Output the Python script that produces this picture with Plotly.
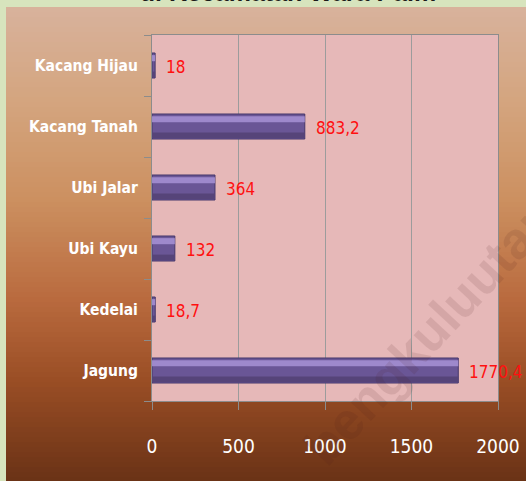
import plotly.graph_objects as go

categories = ["Jagung", "Kedelai", "Ubi Kayu", "Ubi Jalar", "Kacang Tanah", "Kacang Hijau"]
values = [1770.4, 18.7, 132, 364, 883.2, 18]
value_labels = ["1770,4", "18,7", "132", "364", "883,2", "18"]
x_ticks = [0, 500, 1000, 1500, 2000]
title_text = "di Kecamatan Wara Palm"

W, H = 526, 481
ML, MR, MT, MB = 152, 28, 35, 80
PW, PH = W - ML - MR, H - MT - MB

def px_x(p):
    return (p - ML) / PW

def px_y(p):
    return (H - MB - p) / PH

# background gradient (style)
stops = [(7, (216, 178, 156)), (100, (212, 165, 127)), (200, (204, 144, 96)),
         (300, (185, 106, 62)), (380, (154, 78, 37)), (481, (106, 50, 22))]

def col_at(p):
    for (a, ca), (b, cb) in zip(stops[:-1], stops[1:]):
        if a <= p <= b:
            t = (p - a) / (b - a)
            return tuple(int(round(ca[i] + (cb[i] - ca[i]) * t)) for i in range(3))
    return stops[-1][1]

shapes = []
step = 5
p = 7
while p < H:
    q = min(p + step, H)
    c = col_at((p + q) / 2)
    shapes.append(dict(type="rect", xref="paper", yref="paper", layer="below",
                       x0=px_x(6), x1=px_x(W + 2), y0=px_y(q + 0.5), y1=px_y(p),
                       fillcolor="rgb(%d,%d,%d)" % c, line=dict(width=0)))
    p = q
# plot area
shapes.append(dict(type="rect", xref="paper", yref="paper", layer="below",
                   x0=0, x1=1, y0=0, y1=1, fillcolor="#e6b8b8", line=dict(width=0)))

fig = go.Figure()
fig.add_trace(go.Bar(orientation="h", y=categories, x=values, width=0.41, offset=-0.205,
                     marker=dict(color="#6a5696", line=dict(color="#45366a", width=1)),
                     hoverinfo="skip"))
fig.add_trace(go.Bar(orientation="h", y=categories, x=values, width=0.09, offset=-0.19,
                     marker=dict(color="#564479", line=dict(width=0)),
                     hoverinfo="skip"))
fig.add_trace(go.Bar(orientation="h", y=categories, x=values, width=0.1, offset=0.07,
                     marker=dict(color="#a48fd2", line=dict(width=0)), opacity=0.9,
                     hoverinfo="skip"))

NARROW = "Liberation Sans Narrow, DejaVu Sans Condensed, Roboto Condensed, sans-serif"
annotations = []
for c, v, t in zip(categories, values, value_labels):
    annotations.append(dict(x=v, y=c, xref="x", yref="y", text=t, showarrow=False,
                            xanchor="left", xshift=9, yshift=-1,
                            font=dict(color="#ff1010", size=17, family=NARROW)))
annotations.append(dict(x=px_x(436), y=px_y(325), xref="paper", yref="paper", text="bengkuluutara",
                        showarrow=False, textangle=-47, xanchor="center", yanchor="middle",
                        font=dict(color="rgba(70,25,25,0.11)", size=52, family="Liberation Sans", weight="bold")))

fig.update_layout(
    width=W, height=H,
    autosize=False,
    margin=dict(l=ML, r=MR, t=MT, b=MB, autoexpand=False),
    paper_bgcolor="#d7e4bd",
    plot_bgcolor="rgba(0,0,0,0)",
    barmode="overlay",
    showlegend=False,
    shapes=shapes,
    annotations=annotations,
    title=dict(text=title_text, x=288 / W, xanchor="center", yref="container", y=1 - 1 / H,
               yanchor="bottom", font=dict(size=25, color="#1a1a1a", family="Liberation Sans", weight="bold")),
    xaxis=dict(range=[0, 2000], tickvals=x_ticks, ticktext=[str(v) for v in x_ticks],
               showgrid=True, gridcolor="#9c9c9c", gridwidth=1, zeroline=False,
               ticks="outside", ticklen=8, tickcolor="#8c8c8c",
               showline=True, linecolor="#8c8c8c", mirror=True,
               tickfont=dict(color="white", size=19, family=NARROW),
               ticklabelstandoff=20, fixedrange=True, automargin=False),
    yaxis=dict(type="category", categoryorder="array", categoryarray=categories,
               range=[-0.5, 5.5], tickson="boundaries", ticks="outside", ticklen=7,
               tickcolor="#8c8c8c", showline=True, linecolor="#8c8c8c", mirror=True,
               showgrid=False,
               tickfont=dict(color="white", size=15.5, family=NARROW, weight="bold"),
               ticklabelstandoff=10, fixedrange=True, automargin=False),
)

fig.write_html("out.html",
               config={"displayModeBar": False, "responsive": False},
               post_script="document.body.style.margin='0';document.body.style.padding='0';document.body.style.overflow='hidden';")
